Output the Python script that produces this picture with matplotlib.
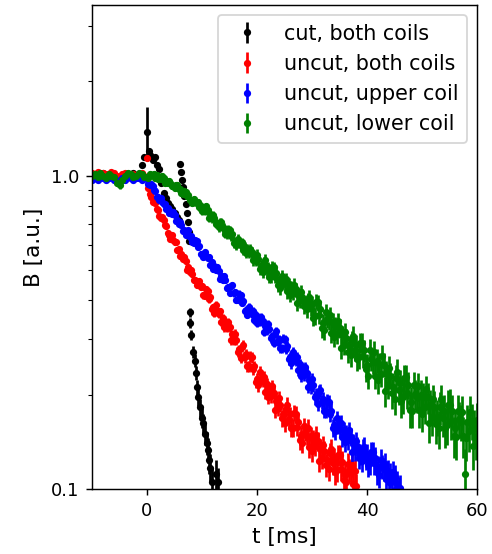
import numpy as np
import matplotlib.pyplot as plt
from matplotlib.ticker import FormatStrFormatter

# decay of the field B after switch-off, four measurements
# before the trigger: samples every 0.5 ms, after it: every 0.25 ms

# cut, both coils (black)
t_cut = [-10.0, -9.5, -9.0, -8.5, -8.0, -7.5, -7.0, -6.5, -6.0, -5.5,
         -5.0, -4.5, -4.0, -3.5, -3.0, -2.5, -2.0, -1.5, -1.0, -0.5,
         0.0, 0.3, 0.6, 1.0, 1.4, 1.8, 2.2, 2.6, 3.0, 3.4,
         3.8, 4.2, 4.6, 5.0, 5.4, 5.8, 6.0, 6.2, 6.4, 6.6,
         6.8, 7.0, 7.2, 7.4, 7.6, 7.7, 7.8, 7.9, 8.0, 8.4,
         8.7, 8.9, 9.1, 9.3, 9.6, 10.0, 10.2, 10.5, 10.9, 11.1,
         11.3, 11.5, 11.8, 12.6, 12.9]
b_cut = [1.00, 1.01, 0.99, 1.00, 1.02, 0.98, 1.00, 1.01, 0.99, 0.97,
         0.98, 1.00, 1.01, 0.99, 1.00, 1.02, 1.00, 0.99, 1.08, 1.15,
         1.38, 1.20, 1.16, 1.12, 1.15, 1.08, 1.05, 0.95, 0.88, 0.85,
         0.82, 0.80, 0.78, 0.76, 0.74, 0.72, 1.09, 1.03, 0.97, 0.92,
         0.86, 0.81, 0.76, 0.71, 0.66, 0.62, 0.366, 0.338, 0.31, 0.273,
         0.257, 0.234, 0.211, 0.196, 0.182, 0.169, 0.162, 0.150, 0.140, 0.133,
         0.124, 0.117, 0.105, 0.112, 0.105]
err_cut = [0.012] * len(b_cut)
err_cut[20] = 0.27

# uncut, both coils (red), one row = 1 ms
pre_both = [1.02, 1.01, 1.03, 1.00, 1.02, 1.01, 0.99, 1.03, 1.02, 1.00,
            0.99, 1.01, 1.02, 1.00, 0.98, 1.01, 1.00, 0.99, 1.02, 1.00]
post_both = [1.14, 0.911, 0.871, 0.857,
             0.825, 0.829, 0.819, 0.784,
             0.775, 0.744, 0.733, 0.737,
             0.723, 0.695, 0.690, 0.657,
             0.647, 0.627, 0.646, 0.625,
             0.612, 0.613, 0.577, 0.583,
             0.553, 0.560, 0.542, 0.551,
             0.533, 0.501, 0.510, 0.492,
             0.499, 0.486, 0.464, 0.464,
             0.448, 0.459, 0.461, 0.440,
             0.444, 0.415, 0.413, 0.434,
             0.428, 0.403, 0.409, 0.376,
             0.380, 0.364, 0.387, 0.371,
             0.362, 0.369, 0.340, 0.352,
             0.328, 0.340, 0.327, 0.341,
             0.328, 0.299, 0.312, 0.297,
             0.313, 0.299, 0.274, 0.279,
             0.262, 0.284, 0.289, 0.263,
             0.269, 0.246, 0.246, 0.265,
             0.263, 0.241, 0.247, 0.220,
             0.225, 0.214, 0.236, 0.225,
             0.221, 0.228, 0.204, 0.216,
             0.197, 0.208, 0.198, 0.213,
             0.203, 0.179, 0.191, 0.181,
             0.195, 0.186, 0.168, 0.173,
             0.162, 0.180, 0.186, 0.167,
             0.173, 0.156, 0.157, 0.175,
             0.174, 0.158, 0.164, 0.143,
             0.148, 0.140, 0.159, 0.152,
             0.148, 0.157, 0.136, 0.148,
             0.132, 0.144, 0.137, 0.149,
             0.142, 0.123, 0.134, 0.126,
             0.138, 0.132, 0.119, 0.124,
             0.116, 0.130, 0.134, 0.121,
             0.125, 0.113, 0.115, 0.128,
             0.128, 0.116, 0.122, 0.107,
             0.111, 0.105, 0.120, 0.115,
             0.113, 0.119, 0.104, 0.114,
             0.102]

# uncut, upper coil (blue)
pre_upper = [0.97, 0.98, 0.97, 0.99, 0.98, 0.97, 0.98, 0.99, 0.97, 0.96,
             0.97, 0.98, 0.97, 0.99, 0.98, 0.97, 0.98, 0.98, 0.97, 0.98]
post_upper = [0.976, 0.942, 0.931, 0.940,
              0.926, 0.896, 0.894, 0.857,
              0.853, 0.833, 0.847, 0.826,
              0.812, 0.813, 0.781, 0.786,
              0.759, 0.768, 0.752, 0.763,
              0.747, 0.715, 0.721, 0.703,
              0.713, 0.695, 0.667, 0.668,
              0.647, 0.666, 0.668, 0.639,
              0.641, 0.613, 0.609, 0.624,
              0.616, 0.591, 0.594, 0.562,
              0.563, 0.549, 0.570, 0.554,
              0.547, 0.551, 0.520, 0.529,
              0.504, 0.514, 0.500, 0.511,
              0.497, 0.469, 0.479, 0.464,
              0.478, 0.463, 0.437, 0.440,
              0.422, 0.443, 0.447, 0.421,
              0.426, 0.402, 0.401, 0.420,
              0.416, 0.393, 0.399, 0.369,
              0.373, 0.360, 0.382, 0.368,
              0.362, 0.371, 0.345, 0.359,
              0.339, 0.351, 0.340, 0.354,
              0.343, 0.318, 0.331, 0.321,
              0.337, 0.325, 0.303, 0.308,
              0.293, 0.313, 0.319, 0.295,
              0.300, 0.281, 0.281, 0.302,
              0.300, 0.279, 0.286, 0.259,
              0.264, 0.252, 0.274, 0.262,
              0.257, 0.263, 0.239, 0.250,
              0.230, 0.241, 0.231, 0.245,
              0.235, 0.212, 0.223, 0.211,
              0.224, 0.214, 0.196, 0.200,
              0.187, 0.204, 0.207, 0.190,
              0.194, 0.178, 0.178, 0.191,
              0.189, 0.174, 0.178, 0.157,
              0.160, 0.153, 0.168, 0.160,
              0.156, 0.162, 0.146, 0.154,
              0.141, 0.150, 0.143, 0.154,
              0.147, 0.131, 0.140, 0.133,
              0.142, 0.137, 0.126, 0.129,
              0.123, 0.134, 0.136, 0.125,
              0.129, 0.119, 0.121, 0.131,
              0.131, 0.121, 0.126, 0.113,
              0.117, 0.111, 0.124, 0.118,
              0.116, 0.120, 0.108, 0.114,
              0.105, 0.111, 0.106, 0.113,
              0.109, 0.100, 0.104, 0.099,
              0.101]

# uncut, lower coil (green)
pre_lower = [1.00, 1.01, 0.99, 1.02, 1.00, 0.98, 1.01, 1.00, 0.99, 0.95,
             0.93, 0.97, 1.00, 1.02, 1.01, 0.99, 1.00, 1.02, 1.01, 0.99]
post_lower = [0.992, 0.982, 1.014, 1.004,
              1.002, 1.014, 0.983, 1.001,
              0.976, 0.991, 0.976, 0.995,
              0.980, 0.946, 0.962, 0.945,
              0.961, 0.949, 0.925, 0.929,
              0.913, 0.930, 0.931, 0.904,
              0.905, 0.880, 0.876, 0.892,
              0.886, 0.861, 0.864, 0.833,
              0.833, 0.819, 0.840, 0.824,
              0.817, 0.822, 0.793, 0.802,
              0.771, 0.792, 0.773, 0.798,
              0.778, 0.731, 0.753, 0.730,
              0.750, 0.733, 0.700, 0.706,
              0.683, 0.708, 0.712, 0.678,
              0.682, 0.653, 0.651, 0.674,
              0.670, 0.642, 0.649, 0.611,
              0.616, 0.599, 0.628, 0.610,
              0.602, 0.612, 0.578, 0.593,
              0.566, 0.581, 0.566, 0.585,
              0.570, 0.536, 0.552, 0.535,
              0.559, 0.541, 0.505, 0.516,
              0.492, 0.527, 0.538, 0.499,
              0.509, 0.475, 0.477, 0.510,
              0.509, 0.476, 0.489, 0.446,
              0.456, 0.438, 0.477, 0.459,
              0.453, 0.467, 0.427, 0.450,
              0.417, 0.439, 0.423, 0.449,
              0.433, 0.393, 0.417, 0.401,
              0.425, 0.411, 0.384, 0.392,
              0.374, 0.400, 0.409, 0.379,
              0.390, 0.352, 0.356, 0.396,
              0.395, 0.359, 0.375, 0.326,
              0.339, 0.321, 0.368, 0.349,
              0.343, 0.360, 0.315, 0.341,
              0.305, 0.331, 0.313, 0.343,
              0.326, 0.281, 0.309, 0.289,
              0.316, 0.303, 0.274, 0.285,
              0.267, 0.298, 0.308, 0.278,
              0.288, 0.260, 0.263, 0.293,
              0.292, 0.266, 0.277, 0.242,
              0.248, 0.230, 0.278, 0.260,
              0.255, 0.274, 0.230, 0.257,
              0.223, 0.250, 0.233, 0.265,
              0.249, 0.205, 0.234, 0.215,
              0.243, 0.230, 0.202, 0.212,
              0.194, 0.226, 0.237, 0.207,
              0.218, 0.191, 0.196, 0.226,
              0.227, 0.202, 0.215, 0.179,
              0.190, 0.178, 0.215, 0.201,
              0.197, 0.213, 0.179, 0.200,
              0.174, 0.196, 0.183, 0.208,
              0.196, 0.162, 0.185, 0.170,
              0.193, 0.183, 0.161, 0.170,
              0.156, 0.182, 0.193, 0.169,
              0.178, 0.157, 0.160, 0.185,
              0.186, 0.165, 0.177, 0.148,
              0.157, 0.146, 0.178, 0.167,
              0.164, 0.176, 0.148, 0.112,
              0.145, 0.164, 0.153, 0.176,
              0.165, 0.137, 0.157, 0.146,
              0.166]

t_pre = np.arange(20) * 0.5 - 10
t_cut = np.array(t_cut)
t_both = np.concatenate([t_pre, np.arange(len(post_both)) * 0.25])
t_upper = np.concatenate([t_pre, np.arange(len(post_upper)) * 0.25])
t_lower = np.concatenate([t_pre, np.arange(len(post_lower)) * 0.25])
b_both = pre_both + post_both
b_upper = pre_upper + post_upper
b_lower = pre_lower + post_lower

labels = ['cut, both coils', 'uncut, both coils', 'uncut, upper coil', 'uncut, lower coil']

fig = plt.figure(figsize=(492 / 130, 554 / 130))
ax = fig.add_axes([92 / 492, 1 - 489 / 554, (477 - 92) / 492, (489 - 5) / 554])

ax.errorbar(t_cut, b_cut, yerr=err_cut, fmt='.', color='black', label=labels[0])
ax.errorbar(t_both, b_both, yerr=0.01, fmt='.', color='red', label=labels[1])
ax.errorbar(t_upper, b_upper, yerr=0.01, fmt='.', color='blue', label=labels[2])
ax.errorbar(t_lower, b_lower, yerr=0.022, fmt='.', color='green', label=labels[3])

ax.set_yscale('log')
ax.set_ylim(0.1, 3.5)
ax.set_xlim(-10, 60)
ax.set_xticks([0, 20, 40, 60])
ax.yaxis.set_major_formatter(FormatStrFormatter('%.1f'))
ax.set_xlabel('t [ms]', fontsize=12)
ax.set_ylabel('B [a.u.]', fontsize=12)
ax.legend(loc='upper right', fontsize=11.4)

fig.savefig('out.png', dpi=130)
